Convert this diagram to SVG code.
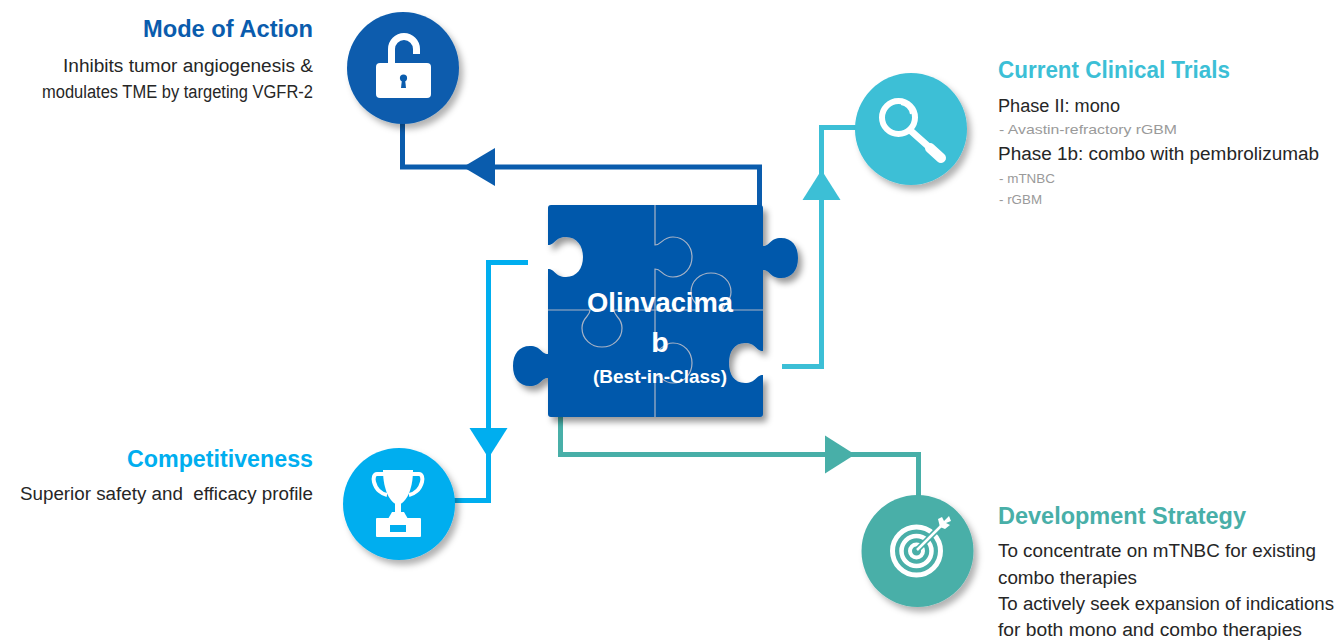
<svg xmlns="http://www.w3.org/2000/svg" width="1336" height="640" viewBox="0 0 1336 640">
  <style>
    text { font-family: "Liberation Sans", Arial, sans-serif; }
    .head { font-size: 23px; font-weight: bold; }
    .body { font-size: 18px; fill: #262626; }
    .sub { font-size: 13px; fill: #9a9a9a; }
    .wire { fill: none; stroke-width: 5; stroke-linejoin: miter; }
    .seam { fill: none; stroke: #a9b4c6; stroke-width: 1.2; }
    .ico { fill: #ffffff; }
    .icoline { fill: none; stroke: #ffffff; }
    .center { font-weight: bold; fill: #ffffff; text-anchor: middle; }
  </style>
  <defs>
    <filter id="shadow" x="-20%" y="-20%" width="150%" height="150%">
      <feDropShadow dx="4" dy="5" stdDeviation="3" flood-color="#000000" flood-opacity="0.4"/>
    </filter>
    <filter id="softShadow" x="-20%" y="-20%" width="150%" height="150%">
      <feDropShadow dx="4" dy="5" stdDeviation="3" flood-color="#000000" flood-opacity="0.3"/>
    </filter>
  </defs>
  <rect width="1336" height="640" fill="#ffffff"/>

  <!-- connectors -->
  <g id="connectors">
    <path class="wire" stroke="#0a5cad" d="M402.5,122 V167 H759.5 V208"/>
    <polygon fill="#0a5cad" points="463,167 495,148 495,186"/>

    <path class="wire" stroke="#3cbfd6" d="M857,127.5 H821.5 V366.5 H782"/>
    <polygon fill="#3cbfd6" points="821.5,170 802.5,200 840.5,200"/>

    <path class="wire" stroke="#00aeef" d="M528,262.5 H488.5 V500.5 H454"/>
    <polygon fill="#00aeef" points="488.5,458 469.5,428 507.5,428"/>

    <path class="wire" stroke="#48afa8" d="M560.5,416 V454.5 H918.5 V497"/>
    <polygon fill="#48afa8" points="855,454.5 825,435.5 825,473.5"/>
  </g>

  <!-- central puzzle -->
  <g id="puzzle">
    <path filter="url(#shadow)" fill="#0559ab" d="M551,205 H760 Q763,205 763,208 V246
      C770,246 770,238 781,238 C792,238 798,246 798,258 C798,270 792,278 781,278 C770,278 770,270 763,270
      V351 C756,351 756,343 745,343 C734,343 729,352 729,363 C729,374 734,383 745,383 C756,383 756,375 763,375
      V414 Q763,417 760,417 H551 Q548,417 548,414 V378
      C541,378 541,386 530,386 C519,386 513,378 513,366 C513,354 519,346 530,346 C541,346 541,354 548,354
      V269 C555,269 555,277 566,277 C577,277 583,268 583,257 C583,246 577,237 566,237 C555,237 555,245 548,245
      V208 Q548,205 551,205 Z"/>
    <path class="seam" d="M655,205 V245 C662,245 662,237 673,237 C684,237 692,246 692,257 C692,268 684,277 673,277 C662,277 662,269 655,269 V310"/>
    <path class="seam" d="M548,310 H590 C590,317 582,317 582,328 C582,339 591,347 602,347 C613,347 622,339 622,328 C622,317 614,317 614,310 H699 C699,303 691,303 691,292 C691,281 700,273 711,273 C722,273 731,281 731,292 C731,303 723,303 723,310 H763"/>
    <path class="seam" d="M655,310 V351 C662,351 662,343 673,343 C684,343 692,352 692,363 C692,374 684,383 673,383 C662,383 662,375 655,375 V417"/>
    <text class="center" x="660" y="312" font-size="28.5" textLength="146" lengthAdjust="spacingAndGlyphs">Olinvacima</text>
    <text class="center" x="660" y="352" font-size="28.5">b</text>
    <text class="center" x="660" y="383" font-size="19" textLength="134" lengthAdjust="spacingAndGlyphs">(Best-in-Class)</text>
  </g>

  <!-- Mode of Action -->
  <g id="mode-of-action">
    <circle cx="403" cy="68" r="56" fill="#0a5cad" filter="url(#softShadow)"/>
    <rect class="ico" x="376" y="63" width="55" height="35" rx="4"/>
    <path class="icoline" stroke-width="7" d="M391.5,64 V49 A12.5,12.5 0 0 1 416.5,49 V54"/>
    <circle cx="403.5" cy="78" r="3.6" fill="#0a5cad"/>
    <polygon fill="#0a5cad" points="402,79 405,79 406,88 401,88"/>
    <text class="head" fill="#0a5cad" x="313" y="37" text-anchor="end" textLength="170" lengthAdjust="spacingAndGlyphs">Mode of Action</text>
    <text class="body" x="313" y="72" text-anchor="end" textLength="250" lengthAdjust="spacingAndGlyphs">Inhibits tumor angiogenesis &amp;</text>
    <text class="body" x="313" y="98" text-anchor="end" textLength="271" lengthAdjust="spacingAndGlyphs">modulates TME by targeting VGFR-2</text>
  </g>

  <!-- Current Clinical Trials -->
  <g id="clinical-trials">
    <circle cx="911" cy="129" r="56" fill="#3cbfd6" filter="url(#softShadow)"/>
    <circle cx="898.5" cy="117.5" r="16.5" fill="none" stroke="#ffffff" stroke-width="6"/>
    <path class="icoline" stroke-width="2" d="M901,104 A12,12 0 0 1 911,114"/>
    <line x1="911" y1="131" x2="929" y2="147" stroke="#ffffff" stroke-width="7" stroke-linecap="round"/>
    <line x1="930" y1="148" x2="941" y2="158" stroke="#ffffff" stroke-width="10" stroke-linecap="round"/>
    <text class="head" fill="#3cbfd6" x="998" y="78" textLength="232" lengthAdjust="spacingAndGlyphs">Current Clinical Trials</text>
    <text class="body" x="998" y="112" textLength="122" lengthAdjust="spacingAndGlyphs">Phase II: mono</text>
    <text class="sub" x="999" y="134" textLength="178" lengthAdjust="spacingAndGlyphs"> - Avastin-refractory rGBM</text>
    <text class="body" x="998" y="160" textLength="321" lengthAdjust="spacingAndGlyphs">Phase 1b: combo with pembrolizumab</text>
    <text class="sub" x="999" y="183" textLength="56" lengthAdjust="spacingAndGlyphs"> - mTNBC</text>
    <text class="sub" x="999" y="204" textLength="43" lengthAdjust="spacingAndGlyphs"> - rGBM</text>
  </g>

  <!-- Competitiveness -->
  <g id="competitiveness">
    <circle cx="399" cy="504" r="56" fill="#00aeef" filter="url(#softShadow)"/>
    <path class="ico" d="M383,470 H413 C413,490 406,503 398,505 C390,503 383,490 383,470 Z"/>
    <path class="icoline" stroke-width="4" d="M385,474 H377 C374,474 373,478 374,482 C376,490 382,494 387,495"/>
    <path class="icoline" stroke-width="4" d="M411,474 H419 C422,474 423,478 422,482 C420,490 414,494 409,495"/>
    <rect class="ico" x="395" y="503" width="6" height="10"/>
    <path class="ico" d="M388,519 L392,512 H404 L408,519 Z"/>
    <rect class="ico" x="376" y="518" width="45" height="19" rx="1"/>
    <rect x="390" y="525" width="16" height="7" fill="#00aeef"/>
    <text class="head" fill="#00aeef" x="313" y="467" text-anchor="end" textLength="186" lengthAdjust="spacingAndGlyphs">Competitiveness</text>
    <text class="body" x="313" y="500" text-anchor="end" textLength="293" lengthAdjust="spacingAndGlyphs" xml:space="preserve">Superior safety and  efficacy profile</text>
  </g>

  <!-- Development Strategy -->
  <g id="development-strategy">
    <circle cx="917.5" cy="551" r="56" fill="#48afa8" filter="url(#softShadow)"/>
    <circle cx="916.5" cy="551" r="24" fill="none" stroke="#ffffff" stroke-width="5"/>
    <circle cx="916.5" cy="551" r="15" fill="none" stroke="#ffffff" stroke-width="4.5"/>
    <circle cx="916.5" cy="551" r="6.5" fill="none" stroke="#ffffff" stroke-width="4"/>
    <line x1="917" y1="550" x2="944" y2="523" stroke="#48afa8" stroke-width="6"/>
    <line x1="917" y1="550" x2="944" y2="523" stroke="#ffffff" stroke-width="2.5"/>
    <polygon class="ico" points="940,527 938,519 942,517 944,521 949,516 951,521 946,523 950,525 945,529"/>
    <text class="head" fill="#48afa8" x="998" y="524" textLength="248" lengthAdjust="spacingAndGlyphs">Development Strategy</text>
    <text class="body" x="998" y="557" textLength="318" lengthAdjust="spacingAndGlyphs">To concentrate on mTNBC for existing</text>
    <text class="body" x="998" y="584" textLength="139" lengthAdjust="spacingAndGlyphs">combo therapies</text>
    <text class="body" x="998" y="610" textLength="336" lengthAdjust="spacingAndGlyphs">To actively seek expansion of indications</text>
    <text class="body" x="998" y="636" textLength="304" lengthAdjust="spacingAndGlyphs">for both mono and combo therapies</text>
  </g>
</svg>
